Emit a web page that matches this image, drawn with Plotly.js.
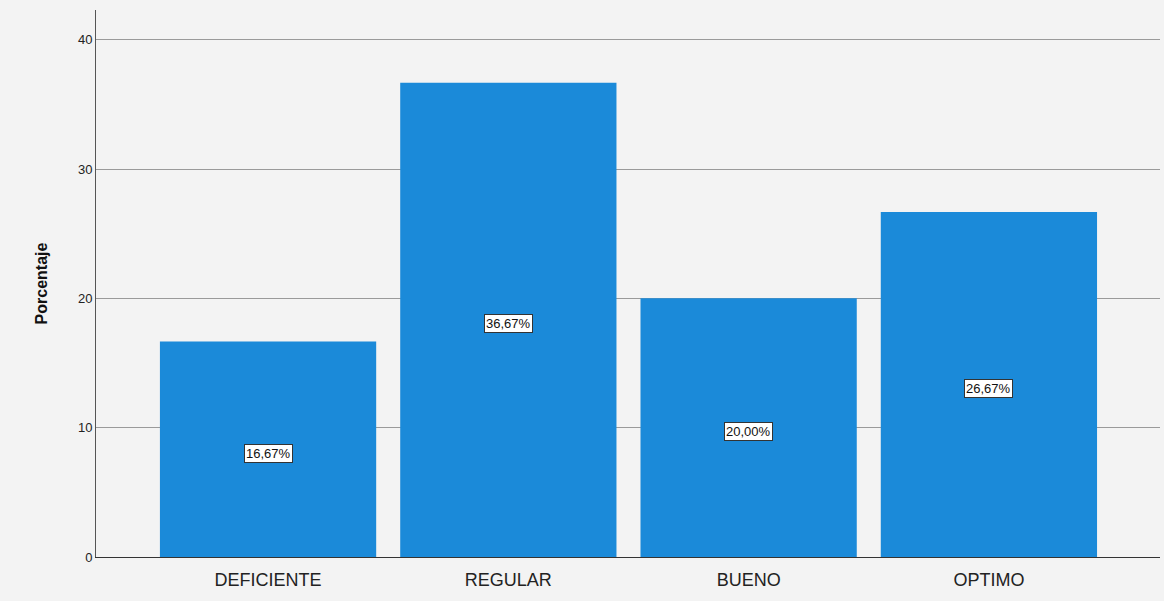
<!DOCTYPE html>
<html>
<head>
<meta charset="utf-8">
<script src="https://cdn.plot.ly/plotly-3.0.1.min.js"></script>
<style>html,body{margin:0;padding:0;background:#f3f3f3;}#chart{width:1164px;height:601px;}</style>
</head>
<body>
<div id="chart"></div>
<script>
const categories = ["DEFICIENTE", "REGULAR", "BUENO", "OPTIMO"];
const porcentaje = [16.67, 36.67, 20.00, 26.67];
const labels = ["16,67%", "36,67%", "20,00%", "26,67%"];

const trace = {
  type: 'bar',
  x: categories,
  y: porcentaje,
  width: 0.9,
  marker: {color: '#1b8ad9', line: {width: 0}},
  hoverinfo: 'x+y'
};

const annotations = categories.map((c, i) => ({
  x: c, y: porcentaje[i] / 2, xref: 'x', yref: 'y',
  yshift: -4,
  text: labels[i], showarrow: false,
  font: {family: 'Liberation Sans, Arial, sans-serif', size: 13, color: '#111'},
  bgcolor: '#ffffff', bordercolor: '#333', borderwidth: 1, borderpad: 1
}));

const layout = {
  width: 1164, height: 601,
  margin: {l: 96, r: 4, t: 10, b: 44},
  paper_bgcolor: '#f3f3f3',
  plot_bgcolor: '#f3f3f3',
  showlegend: false,
  bargap: 0.1,
  xaxis: {
    type: 'category',
    range: [-0.716, 3.712],
    showgrid: false, zeroline: false,
    showline: true, linecolor: '#333', linewidth: 1,
    ticks: '',
    ticklabelstandoff: 6,
    tickfont: {family: 'Liberation Sans, Arial, sans-serif', size: 18, color: '#222'},
    fixedrange: true
  },
  yaxis: {
    range: [0, 42.3],
    tickvals: [0, 10, 20, 30, 40],
    ticktext: ['0', '10', '20', '30', '40'],
    showgrid: true, gridcolor: '#9a9a9a', gridwidth: 1,
    zeroline: false,
    showline: true, linecolor: '#555', linewidth: 1,
    ticks: '', ticklen: 0,
    tickfont: {family: 'Liberation Sans, Arial, sans-serif', size: 13, color: '#222'},
    title: {text: '<b>Porcentaje</b>', font: {family: 'Liberation Sans, Arial, sans-serif', size: 16, color: '#111'}, standoff: 26},
    fixedrange: true
  },
  annotations: annotations
};

Plotly.newPlot('chart', [trace], layout, {displayModeBar: false, staticPlot: true});
</script>
</body>
</html>
